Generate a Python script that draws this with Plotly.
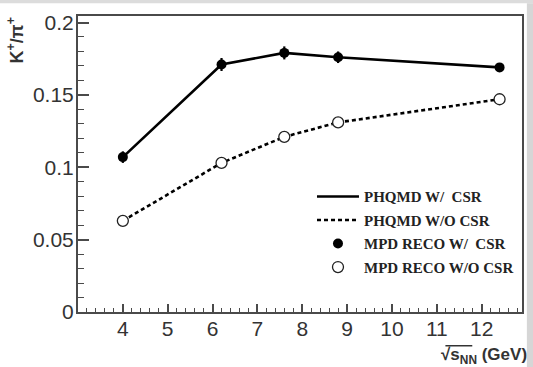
import plotly.graph_objects as go

# Collision energies (GeV)
energy = [4.0, 6.2, 7.6, 8.8, 12.4]

# PHQMD model curves for K+/pi+
phqmd_csr = [0.107, 0.171, 0.179, 0.176, 0.169]
phqmd_no_csr = [0.063, 0.103, 0.121, 0.131, 0.147]

# MPD reconstructed ratios and their uncertainties
reco_csr = [0.107, 0.171, 0.179, 0.176, 0.169]
reco_csr_err = [0.004, 0.0045, 0.0045, 0.004, 0.003]
reco_no_csr = [0.063, 0.103, 0.121, 0.131, 0.147]

x_ticks = [4, 5, 6, 7, 8, 9, 10, 11, 12]
y_ticks = [0, 0.05, 0.1, 0.15, 0.2]
y_tick_text = ["0", "0.05", "0.1", "0.15", "0.2"]

TEXT = "#333333"
FRAME = "#4a4a4a"

fig = go.Figure()

fig.add_trace(go.Scatter(
    x=energy, y=phqmd_csr, mode="lines", name="<b>PHQMD W/  CSR</b>",
    line=dict(color="black", width=2.6), legendgroup="a",
))
fig.add_trace(go.Scatter(
    x=energy, y=phqmd_no_csr, mode="lines", name="<b>PHQMD W/O CSR</b>",
    line=dict(color="black", width=2.6, dash="4px,3px"), legendgroup="b",
))
fig.add_trace(go.Scatter(
    x=energy, y=reco_csr, mode="markers", name="<b>MPD RECO W/  CSR</b>",
    marker=dict(symbol="circle", size=10, color="black"),
    error_y=dict(type="data", array=reco_csr_err, color="black", thickness=2.2, width=0),
    legendgroup="c",
))
fig.add_trace(go.Scatter(
    x=energy, y=reco_no_csr, mode="markers", name="<b>MPD RECO W/O CSR</b>",
    marker=dict(symbol="circle", size=11, color="white", line=dict(width=1.3, color="#222222")),
    legendgroup="d",
))

axis_common = dict(
    showgrid=False, zeroline=False, showline=True, linecolor=FRAME, linewidth=2,
    mirror=True, ticks="inside", tickcolor=FRAME, tickwidth=1.5,
    tickfont=dict(family="Liberation Sans, Arial, sans-serif", size=21, color=TEXT),
)

fig.update_xaxes(
    range=[3.0, 12.9], tickvals=x_ticks, ticklen=8, ticklabelstandoff=-3,
    minor=dict(ticks="inside", ticklen=4, dtick=0.2, tick0=3, tickcolor=FRAME, tickwidth=1.2),
    **axis_common,
)
fig.update_yaxes(
    range=[0, 0.2045], tickvals=y_ticks, ticktext=y_tick_text, ticklen=11,
    ticklabelstandoff=-2,
    minor=dict(ticks="inside", ticklen=6, dtick=0.01, tick0=0, tickcolor=FRAME, tickwidth=1.2),
    **axis_common,
)

# Axis titles
fig.add_annotation(
    text="<b>K<sup>+</sup>/π<sup>+</sup></b>", textangle=-90,
    xref="paper", yref="paper", x=-0.14, y=0.92, xanchor="center", yanchor="middle",
    showarrow=False,
    font=dict(family="Liberation Sans, Arial, sans-serif", size=18, color=TEXT),
)
fig.add_annotation(
    text="<b>√s<sub>NN</sub> (GeV)</b>",
    xref="paper", yref="paper", x=1.015, y=-0.148, xanchor="right", yanchor="middle",
    showarrow=False,
    font=dict(family="Liberation Sans, Arial, sans-serif", size=17, color=TEXT),
)
# Radical bar over s_NN
fig.add_shape(type="line", xref="paper", yref="paper", x0=0.8275, x1=0.888, y0=-0.114, y1=-0.114,
              line=dict(color=TEXT, width=1.5))

# Thin strips framing the page edges
fig.add_shape(type="rect", xref="paper", yref="paper", x0=-0.2, x1=1.2, y0=1.043, y1=1.06,
              fillcolor="#dcdcdc", line=dict(width=0), layer="below")
fig.add_shape(type="rect", xref="paper", yref="paper", x0=1.011, x1=1.03, y0=-0.2, y1=1.043,
              fillcolor="#d6d6d6", line=dict(width=0), layer="below")

fig.update_layout(
    width=533, height=367,
    margin=dict(l=78, r=9, t=16, b=55),
    paper_bgcolor="white", plot_bgcolor="white",
    showlegend=True,
    legend=dict(
        x=0.527, y=0.445, xanchor="left", yanchor="top",
        bgcolor="rgba(0,0,0,0)", borderwidth=0,
        font=dict(family="Liberation Serif, Times New Roman, serif", size=15, color="#222222"),
        traceorder="grouped", tracegroupgap=1, itemwidth=42,
    ),
)

fig.write_html("out.html")
